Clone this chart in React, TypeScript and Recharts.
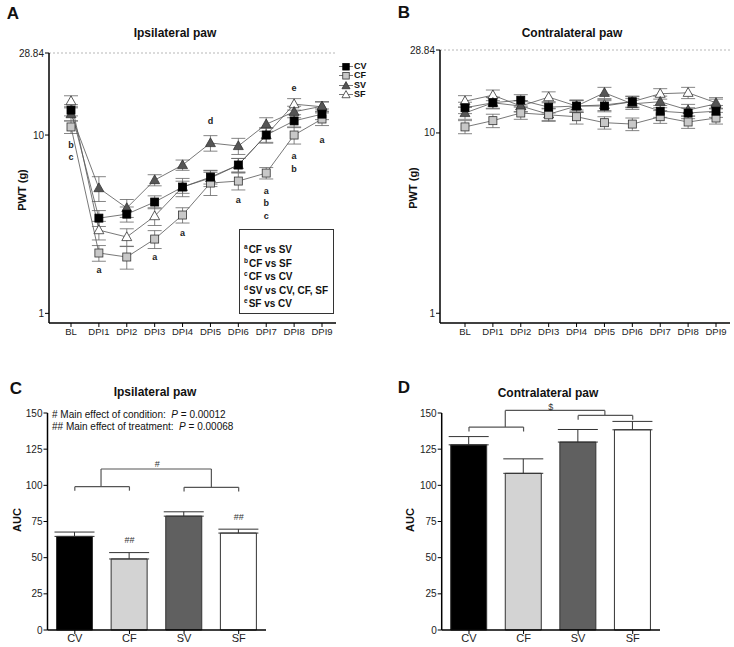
import React from "react"
import {
  LineChart,
  Line,
  XAxis,
  YAxis,
  ErrorBar,
  ReferenceLine,
  ReferenceDot,
  BarChart,
  Bar,
  Cell,
} from "recharts"

const days = ["BL", "DPI1", "DPI2", "DPI3", "DPI4", "DPI5", "DPI6", "DPI7", "DPI8", "DPI9"]
const groups = ["CV", "CF", "SV", "SF"]

// A - ipsilateral paw withdrawal threshold (g), mean and SEM
const ipsiCV = [13.8, 3.42, 3.6, 4.21, 5.11, 5.81, 6.79, 10.0, 12.0, 13.1]
const ipsiCVErr = [1.0, 0.35, 0.35, 0.35, 0.4, 0.5, 0.6, 0.9, 1.0, 0.9]
const ipsiCF = [11.1, 2.18, 2.07, 2.61, 3.56, 5.38, 5.52, 6.12, 10.0, 12.3]
const ipsiCFErr = [0.9, 0.22, 0.3, 0.3, 0.35, 0.8, 0.6, 0.45, 1.1, 1.0]
const ipsiSV = [13.1, 5.04, 3.9, 5.59, 6.79, 9.02, 8.68, 11.5, 13.5, 14.5]
const ipsiSVErr = [1.1, 0.8, 0.45, 0.4, 0.45, 0.9, 0.9, 1.0, 1.0, 0.9]
const ipsiSF = [15.5, 2.93, 2.68, 3.51, 5.11, 5.74, 6.79, 10.0, 14.9, 14.4]
const ipsiSFErr = [1.1, 0.35, 0.3, 0.4, 0.6, 0.6, 0.6, 1.0, 1.1, 0.9]

// B - contralateral paw
const contraCV = [13.8, 14.7, 15.2, 13.9, 14.1, 14.1, 14.9, 13.2, 12.9, 13.2]
const contraCVErr = [1.0, 1.0, 1.1, 1.0, 1.1, 1.0, 1.1, 1.0, 0.9, 1.0]
const contraCF = [10.8, 11.7, 12.9, 12.6, 12.3, 11.4, 11.2, 12.3, 11.5, 12.1]
const contraCFErr = [0.9, 1.0, 1.0, 1.0, 1.1, 0.9, 0.9, 1.0, 0.9, 0.9]
const contraSV = [12.9, 14.7, 14.1, 12.7, 14.1, 16.7, 14.5, 14.9, 13.4, 14.5]
const contraSVErr = [1.0, 1.1, 1.0, 1.0, 1.0, 1.2, 1.0, 1.1, 1.0, 0.9]
const contraSF = [15.0, 16.2, 14.1, 15.8, 14.1, 14.3, 14.9, 16.5, 16.7, 14.7]
const contraSFErr = [1.1, 1.1, 1.0, 1.1, 1.1, 1.0, 1.0, 1.1, 1.2, 1.0]

// significance letters (day, value level, letter)
const ipsiLetters: [string, number, string][] = [
  ["BL", 8.79, "b"], ["BL", 7.53, "c"], ["DPI1", 1.75, "a"], ["DPI3", 2.07, "a"],
  ["DPI4", 2.82, "a"], ["DPI5", 11.98, "d"], ["DPI6", 4.32, "a"], ["DPI7", 4.85, "a"],
  ["DPI7", 4.16, "b"], ["DPI7", 3.51, "c"], ["DPI8", 18.4, "e"], ["DPI8", 7.63, "a"],
  ["DPI8", 6.45, "b"], ["DPI9", 9.38, "a"],
]

// C, D - area under curve
const aucIpsi = [64.7, 49.1, 78.7, 67.0]
const aucIpsiErr = [3.0, 4.4, 3.0, 2.7]
const aucContra = [128.0, 108.3, 129.9, 138.4]
const aucContraErr = [5.7, 10.0, 8.7, 5.8]

// comparison brackets: x1, y1, x2, y2 (group index, AUC)
const ipsiBrackets = [
  [0.48, 111.3, 2.5, 111.3], [0.48, 111.3, 0.48, 99.1], [2.5, 111.3, 2.5, 98.6],
  [0, 99.1, 1, 99.1], [0, 99.1, 0, 96.3], [1, 99.1, 1, 96.3],
  [2, 98.6, 3, 98.6], [2, 98.6, 2, 95.7], [3, 98.6, 3, 95.7],
]
const ipsiMarks: [number, number, string][] = [[1.51, 114.7, "#"], [1, 62.4, "##"], [3, 78, "##"]]
const contraBrackets = [
  [0.665, 151.8, 2.49, 151.8], [0.665, 151.8, 0.665, 140.3], [2.49, 151.8, 2.49, 148.3],
  [0, 140.3, 1, 140.3], [0, 140.3, 0, 137.2], [1, 140.3, 1, 137.2],
  [2, 148.3, 3, 148.3], [2, 148.3, 2, 145.3], [3, 148.3, 3, 145.3],
]
const contraMarks: [number, number, string][] = [[1.5, 154.3, "$"]]

const FONT = 'Arial, "Liberation Sans", sans-serif'

const seriesStyle: Record<string, { shape: string; fill: string; stroke: string }> = {
  CV: { shape: "square", fill: "#000", stroke: "#000" },
  CF: { shape: "square", fill: "#c8c8c8", stroke: "#333" },
  SV: { shape: "triangle", fill: "#555", stroke: "#333" },
  SF: { shape: "triangle", fill: "#fff", stroke: "#333" },
}
const barFills = ["#000000", "#d3d3d3", "#606060", "#ffffff"]

function Marker({ kind, cx, cy, size }: { kind: string; cx: number; cy: number; size: number }) {
  const st = seriesStyle[kind]
  if (st.shape === "square") {
    return (
      <rect x={cx - size / 2} y={cy - size / 2} width={size} height={size}
        fill={st.fill} stroke={st.stroke} strokeWidth={0.8} />
    )
  }
  const w = size * 0.62
  return (
    <polygon
      points={`${cx},${cy - size * 0.65} ${cx - w},${cy + size * 0.45} ${cx + w},${cy + size * 0.45}`}
      fill={st.fill} stroke={st.stroke} strokeWidth={0.8} strokeLinejoin="round" />
  )
}

const dotFor = (g: string) => (p: any) => {
  if (p.cx == null || p.cy == null) return <g key={`${g}-${p.index}`} />
  return <Marker key={`${g}-${p.index}`} kind={g} cx={p.cx} cy={p.cy} size={8} />
}

function buildPwt(cv: number[], cve: number[], cf: number[], cfe: number[], sv: number[], sve: number[], sf: number[], sfe: number[]) {
  return days.map((d, i) => ({
    day: d,
    CV: cv[i], CVe: cve[i],
    CF: cf[i], CFe: cfe[i],
    SV: sv[i], SVe: sve[i],
    SF: sf[i], SFe: sfe[i],
  }))
}

const ipsiData = buildPwt(ipsiCV, ipsiCVErr, ipsiCF, ipsiCFErr, ipsiSV, ipsiSVErr, ipsiSF, ipsiSFErr)
const contraData = buildPwt(contraCV, contraCVErr, contraCF, contraCFErr, contraSV, contraSVErr, contraSF, contraSFErr)

const drawOrder = ["SF", "SV", "CF", "CV"]

function PwtChart({ data, letters, margin, padding }: any) {
  return (
    <LineChart width={367} height={345} data={data} margin={margin}>
      <XAxis dataKey="day" padding={padding} interval={0} height={16} tickSize={4} tickMargin={1}
        tick={{ fontSize: 9.5, fill: "#222", fontFamily: FONT }}
        axisLine={{ stroke: "#000", strokeWidth: 1.5 }} tickLine={{ stroke: "#000" }} />
      <YAxis scale="log" domain={[0.883, 28.84]} allowDataOverflow ticks={[1, 10, 28.84]} width={30}
        tickSize={4} tickMargin={1} tickFormatter={(v: number) => String(v)}
        tick={{ fontSize: 10, fill: "#222", fontFamily: FONT }}
        axisLine={{ stroke: "#000", strokeWidth: 1.5 }} tickLine={{ stroke: "#000" }} />
      <ReferenceLine y={28.84} stroke="#999" strokeDasharray="2 2" strokeWidth={0.7} />
      {drawOrder.map((g) => (
        <Line key={g} dataKey={g} stroke="#555" strokeWidth={0.8} isAnimationActive={false}
          dot={dotFor(g)} activeDot={false}>
          <ErrorBar dataKey={`${g}e`} width={7} stroke="#666" strokeWidth={0.8} direction="y" />
        </Line>
      ))}
      {letters.map(([d, v, t]: [string, number, string], i: number) => (
        <ReferenceDot key={`l${i}`} x={d} y={v} r={0} stroke="none"
          label={{ value: t, position: "center", fontSize: 9, fontWeight: 700, fill: "#222", fontFamily: FONT }} />
      ))}
    </LineChart>
  )
}

function AucChart({ values, errs, brackets, marks, width, margin }: any) {
  const data = groups.map((g, i) => ({ g, i, v: values[i], e: [0, errs[i]] }))
  return (
    <BarChart width={width} height={267} data={data} margin={margin}>
      <XAxis dataKey="g" height={14} tickSize={4} tickMargin={0}
        tick={{ fontSize: 11, fill: "#222", fontFamily: FONT }}
        axisLine={{ stroke: "#000", strokeWidth: 1.5 }} tickLine={{ stroke: "#000" }} />
      <XAxis xAxisId="n" dataKey="i" type="number" domain={[-0.5, 3.5]} allowDataOverflow hide />
      <YAxis domain={[0, 150]} ticks={[0, 25, 50, 75, 100, 125, 150]} width={30} tickSize={4} tickMargin={1}
        tick={{ fontSize: 10, fill: "#222", fontFamily: FONT }}
        axisLine={{ stroke: "#000", strokeWidth: 1.5 }} tickLine={{ stroke: "#000" }} />
      <Bar dataKey="v" barSize={36} stroke="#333" strokeWidth={1} isAnimationActive={false}>
        {data.map((d, i) => (
          <Cell key={d.g} fill={barFills[i]} />
        ))}
        <ErrorBar dataKey="e" width={20} stroke="#333" strokeWidth={1} direction="y" />
      </Bar>
      {brackets.map(([x1, y1, x2, y2]: number[], i: number) => (
        <ReferenceLine key={`b${i}`} xAxisId="n" ifOverflow="visible"
          segment={[{ x: x1, y: y1 }, { x: x2, y: y2 }]} stroke="#555" strokeWidth={1.2} />
      ))}
      {marks.map(([x, y, t]: [number, number, string], i: number) => (
        <ReferenceDot key={`m${i}`} xAxisId="n" x={x} y={y} r={0} stroke="none" ifOverflow="visible"
          label={{ value: t, position: "center", fontSize: 9, fill: "#333", fontFamily: FONT }} />
      ))}
    </BarChart>
  )
}

function T({ x, y, children, size = 12, bold = false, rotate = false, anchor = "center", style = {} }: any) {
  const tx = anchor === "center" ? "-50%" : "0"
  return (
    <div style={{
      position: "absolute", left: x, top: y, whiteSpace: "nowrap", lineHeight: 1,
      fontSize: size, fontWeight: bold ? 700 : 400, fontFamily: FONT, color: "#111",
      transform: `translate(${tx}, -50%)${rotate ? " rotate(-90deg)" : ""}`,
      ...style,
    }}>
      {children}
    </div>
  )
}

function LegendRow({ g, y }: { g: string; y: number }) {
  return (
    <div style={{ position: "absolute", left: 339, top: y - 4.5, height: 9, display: "flex", alignItems: "center" }}>
      <svg width={14} height={9}>
        <line x1={0} y1={4.5} x2={14} y2={4.5} stroke="#555" strokeWidth={0.8} />
        <Marker kind={g} cx={7} cy={4.8} size={6.5} />
      </svg>
      <span style={{ fontFamily: FONT, fontSize: 9, lineHeight: "9px", fontWeight: 700, marginLeft: 1, color: "#111" }}>{g}</span>
    </div>
  )
}

const statRows = [["a", "CF vs SV"], ["b", "CF vs SF"], ["c", "CF vs CV"], ["d", "SV vs CV, CF, SF"], ["e", "SF vs CV"]]

export default function App() {
  return (
    <div style={{ position: "absolute", left: 0, top: 0, width: 734, height: 647, background: "#fff", overflow: "hidden" }}>
      <div style={{ position: "absolute", left: 0, top: 0 }}>
        <PwtChart data={ipsiData} letters={ipsiLetters}
          margin={{ top: 53, right: 31, bottom: 6, left: 19 }} padding={{ left: 22, right: 14 }} />
      </div>
      <div style={{ position: "absolute", left: 367, top: 0 }}>
        <PwtChart data={contraData} letters={[]}
          margin={{ top: 50, right: 4, bottom: 6, left: 43 }} padding={{ left: 25, right: 14 }} />
      </div>
      <div style={{ position: "absolute", left: 0, top: 380 }}>
        <AucChart values={aucIpsi} errs={aucIpsiErr} brackets={ipsiBrackets} marks={ipsiMarks}
          width={280} margin={{ top: 33, right: 14, bottom: 3, left: 17.5 }} />
      </div>
      <div style={{ position: "absolute", left: 367, top: 380 }}>
        <AucChart values={aucContra} errs={aucContraErr} brackets={contraBrackets} marks={contraMarks}
          width={300} margin={{ top: 33, right: 7, bottom: 3, left: 44.7 }} />
      </div>

      <T x={13} y={13} size={17} bold>A</T>
      <T x={404} y={12} size={17} bold>B</T>
      <T x={16} y={388} size={17} bold>C</T>
      <T x={404} y={387} size={17} bold>D</T>

      <T x={175} y={33} size={12} bold>Ipsilateral paw</T>
      <T x={572} y={33} size={12} bold>Contralateral paw</T>
      <T x={155} y={392} size={12} bold>Ipsilateral paw</T>
      <T x={548} y={393} size={12} bold>Contralateral paw</T>

      <T x={22} y={190} size={11} bold rotate>PWT (g)</T>
      <T x={413} y={188} size={11} bold rotate>PWT (g)</T>
      <T x={17} y={520} size={11} bold rotate>AUC</T>
      <T x={410} y={520} size={11} bold rotate>AUC</T>

      {groups.map((g, i) => (
        <LegendRow key={g} g={g} y={66.5 + i * 9.3} />
      ))}

      <div style={{ position: "absolute", left: 239, top: 229, width: 93, height: 83, border: "1px solid #333", background: "#fff" }} />
      {statRows.map(([s, t], i) => (
        <T key={s} x={244} y={249 + i * 13.5} size={10} bold anchor="left">
          <sup style={{ fontSize: 6.5, verticalAlign: "4px", marginRight: 1 }}>{s}</sup>{t}
        </T>
      ))}

      <T x={52} y={415} size={10} anchor="left">
        # Main effect of condition:&nbsp; <i>P</i> = 0.00012
      </T>
      <T x={52} y={427} size={10} anchor="left">
        ## Main effect of treatment:&nbsp; <i>P</i> = 0.00068
      </T>
    </div>
  )
}
